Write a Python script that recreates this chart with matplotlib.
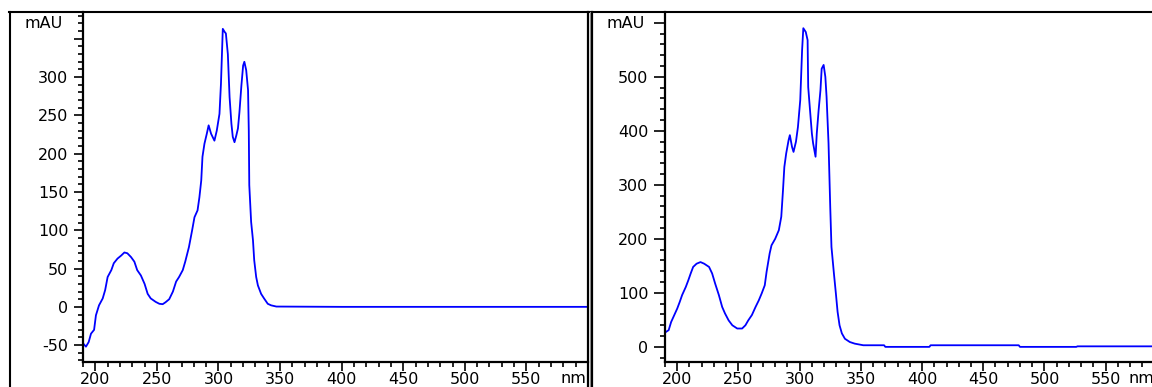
import numpy as np
import matplotlib.pyplot as plt
from matplotlib.lines import Line2D
from matplotlib.ticker import MultipleLocator, FuncFormatter

# left spectrum (nm, mAU)
wl_left = [189.7, 192.4, 194.6, 196.5, 199, 200.5, 203, 206, 208, 210, 213, 215, 218,
           221, 223.6, 226, 229, 231.7, 234, 237, 240, 242.5, 245, 249, 252, 254.7,
           257, 260, 263, 265.6, 268, 271, 273, 276, 278.6, 280.5, 283, 284.5, 286,
           287, 288.6, 290.5, 292, 294, 296.7, 298.6, 300.8, 302, 303.5, 305, 306,
           307.6, 309, 310.5, 311.6, 313, 314.5, 315.8, 317, 318.6, 320, 321, 322.5,
           324, 324.6, 325, 326.5, 328, 329, 330.6, 332, 334.6, 337, 340, 342.7, 347,
           400, 450, 500, 550, 600]
mau_left = [-47, -52, -46, -35, -30, -11, 2, 11, 22, 39, 48, 57, 63,
            67, 71, 70, 65, 59, 48, 41, 30, 17, 11, 6.5, 4, 3.5,
            6, 10, 20, 33, 39, 48, 59, 78, 100, 117, 126, 143, 165,
            196, 213, 226, 237, 226, 217, 230, 252, 291, 363, 359, 357,
            330, 274, 239, 222, 215, 224, 233, 254, 289, 315, 320, 309,
            283, 230, 159, 111, 87, 61, 39, 28, 17, 11, 4, 2, 0.4,
            0, 0, 0, 0, 0]

# right spectrum (nm, mAU)
wl_right = [191, 193, 195, 197, 200, 202, 204, 207, 209, 211, 213, 215.8, 219, 222,
            226, 228.5, 231, 234, 236.7, 239, 242, 245, 249, 253, 255.7, 258, 261,
            264, 266.6, 269, 271.5, 273, 275.5, 277, 280, 283, 285, 286.4, 287.5,
            289, 291, 292, 293.8, 295, 297, 298.6, 300.5, 302, 303, 305, 306.5, 307,
            308.7, 310, 311, 313, 314, 315.5, 317, 318, 319.6, 321, 322, 323.6, 325,
            326, 328, 329.6, 331, 332.6, 334.5, 337, 341, 345, 352, 369, 370, 406,
            407, 479, 480, 526, 527, 600]
mau_right = [28, 31, 46, 56, 71, 83, 96, 111, 123, 136, 148, 154, 157, 154,
             148, 136, 117, 96, 74, 62, 49, 40, 34, 34, 40, 49, 59,
             74, 86, 99, 114, 139, 173, 188, 200, 216, 241, 290, 333,
             358, 383, 392, 370, 361, 380, 407, 457, 549, 590, 583, 568, 481,
             432, 395, 377, 352, 395, 438, 475, 515, 522, 500, 463, 377, 259,
             185, 136, 99, 65, 40, 25, 15, 9, 6, 3, 3, 0, 0,
             3, 3, 0, 0, 1, 1]

W, H = 1152, 387
fig = plt.figure(figsize=(W / 100, H / 100), dpi=100)
plt.rcParams['font.family'] = 'DejaVu Sans'


def fx(px):
    return px / W


def fy(py):
    return 1 - py / H


def panel(x0, xlim, ylim, ymaj, ymin, ytop, wl, vals, px_per_nm, ylen):
    x1 = x0 + (xlim[1] - xlim[0]) * px_per_nm
    ax = fig.add_axes([fx(x0), fy(362), fx(x1 - x0), fy(12) - fy(362)])
    ax.plot(wl, vals, color='#0000ff', lw=1.3)
    ax.set_xlim(*xlim)
    ax.set_ylim(*ylim)
    for s in ['top', 'right']:
        ax.spines[s].set_visible(False)
    for s in ['left', 'bottom']:
        ax.spines[s].set_linewidth(1.6)
    ax.xaxis.set_major_locator(MultipleLocator(50))
    ax.xaxis.set_minor_locator(MultipleLocator(10))
    ax.yaxis.set_major_locator(MultipleLocator(ymaj))
    ax.yaxis.set_minor_locator(MultipleLocator(ymin))
    ax.yaxis.set_major_formatter(FuncFormatter(
        lambda v, p: '' if v > ytop else '%d' % v))
    ax.xaxis.set_major_formatter(FuncFormatter(
        lambda v, p: '' if v > 550 or v < 200 else '%d' % v))
    ax.tick_params(which='major', width=1.2, labelsize=11.5)
    ax.tick_params(which='minor', length=3.5, width=1.2)
    ax.tick_params(axis='x', which='major', length=6.5, pad=1)
    ax.tick_params(axis='y', which='major', length=ylen, pad=4)
    return ax


ax1 = panel(83, (190, 600), (-72, 385), 50, 10, 300, wl_left, mau_left, 1.2317, 6.5)
ax2 = panel(665, (190, 600), (-28, 620), 100, 20, 500, wl_right, mau_right, 1.224, 8)

fig.text(fx(24), fy(23.5), 'mAU', fontsize=11.5, va='center', ha='left')
fig.text(fx(606), fy(23.5), 'mAU', fontsize=11.5, va='center', ha='left')
fig.text(fx(560), fy(386), 'nm', fontsize=11.5, va='bottom', ha='left')
fig.text(fx(1128), fy(386), 'nm', fontsize=11.5, va='bottom', ha='left')

# outer frame
fig.add_artist(Line2D([fx(9), fx(1152)], [fy(12), fy(12)], color='black', lw=1.5))
fig.add_artist(Line2D([fx(9.5), fx(9.5)], [fy(12), fy(387)], color='black', lw=1.5))
fig.add_artist(Line2D([fx(588.3), fx(588.3)], [fy(12), fy(387)], color='black', lw=1.6))
fig.add_artist(Line2D([fx(590), fx(590)], [fy(12), fy(387)], color='#999999', lw=0.8))
fig.add_artist(Line2D([fx(591.7), fx(591.7)], [fy(12), fy(387)], color='black', lw=1.6))

fig.savefig('out.png', dpi=100)
